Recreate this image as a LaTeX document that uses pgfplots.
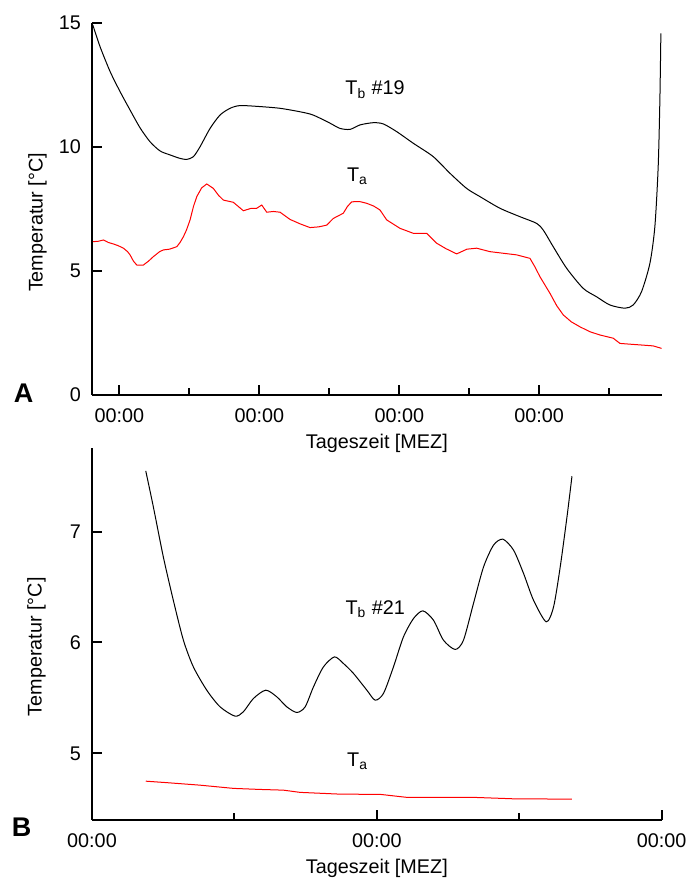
\documentclass[border=0pt]{standalone}
\usepackage{fontspec}
\setmainfont{Liberation Sans}
\usepackage{pgfplots}
\pgfplotsset{compat=1.18}
\begin{document}
\fontsize{9.9}{12}\selectfont
\begin{tikzpicture}[font=\fontsize{9.9}{12}\selectfont]
\useasboundingbox (0,0) rectangle (344pt,439.5pt);
\pgfplotsset{
 mystyle/.style={
  scale only axis, width=284.85pt,
  axis x line=bottom, axis y line=left,
  axis line style={-, line width=1pt},
  tick align=inside,
  major tick length=5pt, minor tick length=3.3pt,
  tick style={black, line width=1pt},
  /pgf/number format/assume math mode=true,
  yticklabel style={xshift=-2pt},
  xticklabel style={yshift=-3.2pt},
  xlabel={Tageszeit [MEZ]},
  ylabel={Temperatur [°C]},
  xlabel style={at={(axis description cs:0.5,0)}, anchor=base, yshift=-27pt},
  clip=false,
 }
}
% ---------------- Panel A ----------------
\begin{axis}[mystyle,
  at={(46pt,242pt)}, anchor=south west, height=186pt,
  xmin=19.3, xmax=117, ymin=0, ymax=15,
  xtick={24,48,72,96}, xticklabels={00:00,00:00,00:00,00:00},
  minor xtick={36,60,84,108},
  ytick={0,5,10,15},
  ylabel style={at={(axis description cs:-0.0867,0.4637)}, anchor=base},
]
\addplot[black, line width=0.5pt, smooth, tension=0.45] coordinates {
(19.44,14.92) (20.69,14.04) (22.41,13.04) (24.12,12.23) (25.83,11.49)
(27.55,10.77) (29.26,10.21) (30.98,9.84) (32.69,9.68) (34.41,9.54)
(35.55,9.50) (36.69,9.61) (37.83,10.01) (39.55,10.75) (41.26,11.29)
(42.98,11.56) (44.69,11.67) (48.12,11.63) (51.55,11.56) (54.98,11.42)
(57.21,11.29) (60.12,10.96) (61.83,10.75) (63.55,10.71) (65.26,10.89)
(67.54,10.98) (69.26,10.93) (71.55,10.62) (74.40,10.15) (77.83,9.61)
(80.69,8.94) (83.55,8.33) (85.83,8.00) (89.26,7.53) (92.69,7.19)
(95.55,6.92) (96.69,6.65) (98.40,5.98) (100.70,5.11) (103.54,4.30)
(105.84,3.96) (108.12,3.63) (110.69,3.50) (112.11,3.63) (113.55,4.17)
(114.98,5.31) (115.83,6.79) (116.40,9.21) (116.69,11.90) (116.86,14.58)
};
\addplot[red, line width=0.5pt] coordinates {
(19.44,6.18) (20.4,6.20) (21.26,6.25) (22.1,6.15) (22.97,6.09) (23.8,6.02)
(24.69,5.92) (25.4,5.78) (25.83,5.65) (26.4,5.40) (26.98,5.24) (28.11,5.24) (29.0,5.40) (29.83,5.58)
(30.9,5.78) (31.54,5.85) (32.6,5.88) (33.84,5.98) (34.4,6.15) (34.97,6.38) (35.5,6.65) (36.12,7.06)
(36.7,7.60) (37.27,8.00) (38.1,8.35) (38.98,8.51) (40.11,8.33) (41.0,8.05) (41.83,7.86) (43.54,7.77)
(45.26,7.43) (46.5,7.52) (47.55,7.53) (48.41,7.66) (49.27,7.37) (50.4,7.40) (51.55,7.37)
(53.26,7.08) (55.0,6.90) (56.69,6.75) (58.2,6.78) (59.55,6.85) (60.69,7.12) (62.40,7.33)
(63.1,7.60) (63.84,7.79) (65.2,7.80) (66.41,7.73) (67.6,7.62) (68.69,7.46) (69.84,7.06) (72.12,6.72)
(74.40,6.52) (76.70,6.52) (78.41,6.12) (80.0,5.90) (81.84,5.69) (83.6,5.88) (85.27,5.92)
(87.55,5.78) (92.13,5.65) (94.41,5.51) (95.3,5.15) (96.12,4.77) (97.84,4.10)
(99.0,3.60) (100.12,3.23) (101.5,2.95) (102.98,2.75) (104.7,2.55) (106.41,2.42) (108.69,2.29) (109.84,2.08)
(111.5,2.05) (113.27,2.02) (115.54,1.98) (116.98,1.88)
};
\node[anchor=base west, inner sep=0pt] at (axis cs:62.69,12.10) {T\textsubscript{b} \#19};
\node[anchor=base west, inner sep=0pt] at (axis cs:62.98,8.60) {T\textsubscript{a}};
\end{axis}
% ---------------- Panel B ----------------
\begin{axis}[mystyle,
  at={(46pt,29.5pt)}, anchor=south west, height=185.85pt,
  xmin=0, xmax=48, ymin=4.4, ymax=7.75,
  xtick={0,24,48}, xticklabels={00:00,00:00,00:00},
  minor xtick={12,36},
  ytick={5,6,7},
  ylabel style={at={(axis description cs:-0.0883,0.466)}, anchor=base},
]
\addplot[black, line width=0.5pt, smooth, tension=0.45] coordinates {
(4.53,7.546) (5.17,7.222) (6.01,6.771) (6.85,6.381) (7.70,6.021)
(8.54,5.780) (9.67,5.570) (10.79,5.420) (12.05,5.336) (12.75,5.375)
(13.60,5.495) (14.64,5.570) (15.57,5.510) (16.41,5.420) (17.26,5.369)
(17.96,5.420) (18.66,5.600) (19.50,5.780) (20.43,5.870) (21.18,5.811)
(22.03,5.721) (23.16,5.570) (23.86,5.480) (24.56,5.541) (25.40,5.780)
(26.24,6.050) (27.09,6.216) (27.88,6.285) (28.77,6.201) (29.61,6.021)
(30.60,5.937) (31.30,6.021) (32.14,6.351) (32.99,6.681) (33.83,6.877)
(34.62,6.931) (35.52,6.832) (36.36,6.622) (37.20,6.381) (38.27,6.186)
(38.89,6.321) (39.45,6.681) (40.02,7.132) (40.44,7.498)
};
\addplot[red, line width=0.5pt] coordinates {
(4.53,4.750) (6.5,4.735) (9.10,4.714) (11.91,4.685) (14.0,4.676) (16.13,4.669)
(17.53,4.649) (20.91,4.633) (24.28,4.631) (26.53,4.604) (29.5,4.604) (32.14,4.604)
(35.52,4.591) (40.44,4.588)
};
\node[anchor=base west, inner sep=0pt] at (axis cs:21.33,6.255) {T\textsubscript{b} \#21};
\node[anchor=base west, inner sep=0pt] at (axis cs:21.47,4.879) {T\textsubscript{a}};
\end{axis}
\node[font=\fontsize{13.5}{16}\selectfont\bfseries] at (11.85pt,243pt) {A};
\node[font=\fontsize{13.5}{16}\selectfont\bfseries] at (10.85pt,25.75pt) {B};
\end{tikzpicture}
\end{document}
